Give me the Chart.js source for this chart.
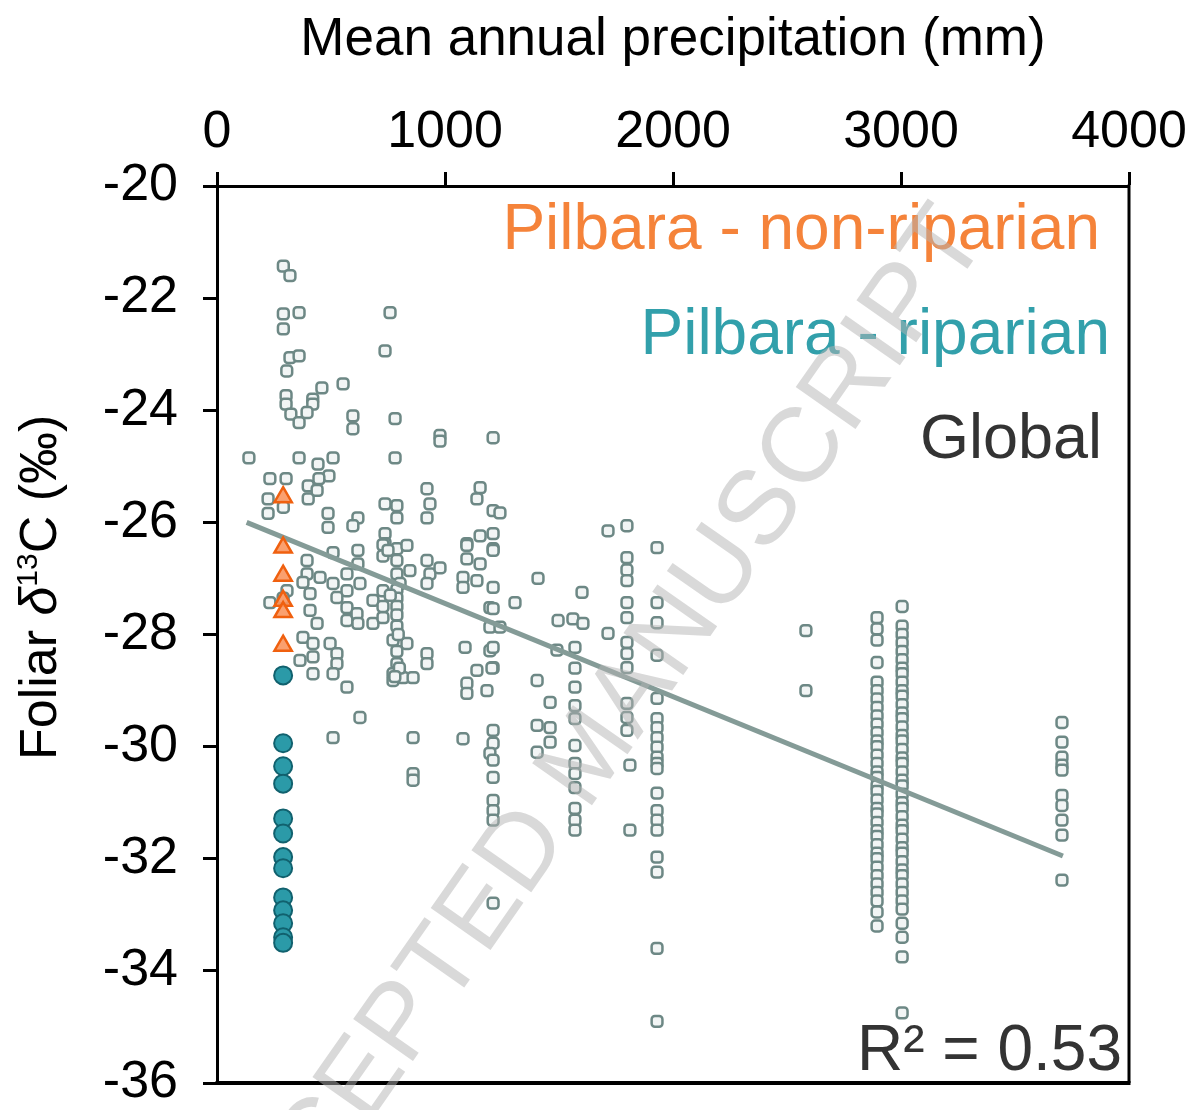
<!DOCTYPE html>
<html>
<head>
<meta charset="utf-8">
<script src="https://cdn.jsdelivr.net/npm/chart.js@4.4.1/dist/chart.umd.min.js"></script>
<style>
  html, body { margin: 0; padding: 0; background: #fff; }
</style>
</head>
<body>
<canvas id="chart" width="1194" height="1110"></canvas>
<script>
// ---- data ----
const xTicks = [0, 1000, 2000, 3000, 4000];
const yTicks = [-36, -34, -32, -30, -28, -26, -24, -22, -20];

const pilbaraMAP = 290;
const nonRiparianD13C = [-25.55, -26.45, -26.95, -27.4, -27.6, -28.2];
const riparianD13C = [-28.73, -29.94, -30.35, -30.66, -31.28, -31.55, -31.97, -32.17, -32.69, -32.92, -33.15, -33.4, -33.5];

const fitMAP = [130, 3710];
const fitD13C = [-26.0, -31.95];

// scattered global sites [MAP, d13C]
const globalPoints = [
  [291,-21.43],[320,-21.6],[291,-22.28],[360,-22.26],[291,-22.55],[320,-23.06],[360,-23.03],[306,-23.3],
  [460,-23.6],[553,-23.53],[303,-23.74],[303,-23.89],[420,-23.8],[420,-23.89],[324,-24.07],[360,-24.22],
  [395,-24.04],[596,-24.1],[596,-24.33],[781,-24.15],[978,-24.45],[978,-24.55],[1211,-24.49],[140,-24.85],
  [360,-24.85],[509,-24.85],[781,-24.85],[443,-24.96],[491,-25.17],[447,-25.22],[400,-25.35],[232,-25.22],
  [303,-25.22],[224,-25.58],[400,-25.58],[439,-25.43],[224,-25.84],[291,-25.73],[487,-25.84],[487,-26.09],
  [618,-25.92],[596,-26.06],[737,-25.67],[789,-25.7],[789,-25.92],[737,-26.2],[737,-26.38],[789,-26.47],
  [833,-26.41],[921,-25.4],[934,-25.67],[921,-25.92],[1154,-25.38],[1140,-25.58],[1211,-25.79],[1096,-26.38],
  [1154,-26.24],[1211,-26.2],[1211,-26.47],[1241,-25.83],[737,-22.94],[759,-22.26],
  [395,-26.68],[509,-26.54],[618,-26.5],[618,-26.74],[395,-26.92],[377,-27.07],[452,-26.98],[509,-27.09],
  [570,-26.92],[570,-27.22],[627,-27.09],[684,-27.39],[728,-27.22],[789,-26.68],[789,-26.92],[803,-27.09],
  [846,-26.86],[921,-26.68],[934,-26.92],[978,-26.81],[921,-27.09],[1096,-26.41],[1096,-26.65],[1154,-26.74],
  [1211,-26.5],[1079,-26.98],[1079,-27.16],[1140,-27.04],[1211,-27.16],[408,-27.27],[408,-27.57],[439,-27.8],
  [526,-27.34],[570,-27.52],[570,-27.75],[614,-27.63],[618,-27.8],[684,-27.8],[232,-27.43],[307,-27.22],
  [290,-27.35],[377,-28.05],[421,-28.16],[496,-28.16],[364,-28.46],[421,-28.4],[526,-28.34],[526,-28.52],
  [421,-28.7],[509,-28.7],[570,-28.94],[627,-29.48],[509,-29.84],[772,-28.1],[833,-28.16],[789,-28.52],
  [772,-28.7],[816,-28.77],[860,-28.77],[772,-28.82],[921,-28.34],[921,-28.52],[860,-29.84],[860,-30.48],
  [860,-30.6],[1088,-28.23],[1096,-28.87],[1096,-29.05],[1184,-29.0],[1140,-28.64],[1197,-28.29],[1211,-28.59],
  [1079,-29.86],[1211,-29.71],[1211,-29.94],[1197,-30.12],[1211,-30.24],[1211,-30.55],[1211,-30.96],[1211,-31.14],
  [1211,-31.31],[1211,-32.79],[1197,-27.52],[1197,-27.87],[1211,-27.54],[1241,-27.87],[1211,-28.23],[1206,-28.6],
  [789,-27.2],[789,-27.35],[789,-27.5],[789,-27.65],[789,-27.85],[795,-28.0],[789,-28.3],[800,-28.6],
  [780,-28.75],[728,-26.4],[728,-26.6],[728,-27.5],[728,-27.7],[750,-26.5],[760,-27.3],
  [1408,-27.0],[1307,-27.43],[1496,-27.75],[1561,-27.72],[1605,-27.8],[1491,-28.28],[1570,-28.23],[1570,-28.6],
  [1404,-28.82],[1461,-29.21],[1404,-29.62],[1461,-29.66],[1461,-29.92],[1404,-30.1],[1570,-28.94],[1570,-29.27],
  [1570,-29.5],[1570,-29.98],[1570,-30.3],[1570,-30.48],[1570,-30.73],[1570,-31.1],[1570,-31.31],[1570,-31.49],
  [1601,-27.25],[1715,-26.15],[1798,-26.06],[1798,-26.63],[1798,-26.85],[1798,-27.04],[1798,-27.43],[1798,-27.7],
  [1715,-27.98],[1798,-28.14],[1798,-28.34],[1798,-28.59],[1798,-29.23],[1798,-29.48],[1798,-29.71],[1811,-30.33],
  [1811,-31.49],[2583,-27.93],[2583,-29.0]
];

// sites stacked on a single MAP value
const col1930 = [-26.45,-27.43,-27.79,-28.37,-29.14,-29.5,-29.66,-29.84,-30.01,-30.19,-30.3,-30.39,-30.83,-31.14,-31.31,-31.49,-31.97,-32.24,-33.6,-34.9];
const col2895 = [-27.7,-27.9,-28.1,-28.5,-28.85,-29.0,-29.15,-29.3,-29.45,-29.6,-29.75,-29.9,-30.0,-30.15,-30.3,-30.45,-30.55,-30.7,-30.8,-30.95,-31.1,-31.2,-31.35,-31.5,-31.6,-31.75,-31.9,-32.0,-32.15,-32.3,-32.45,-32.6,-32.75,-32.95,-33.2];
const col3005 = [-27.5,-27.85,-28.0,-28.15,-28.3,-28.45,-28.6,-28.7,-28.85,-29.0,-29.1,-29.25,-29.4,-29.5,-29.65,-29.8,-29.9,-30.05,-30.2,-30.3,-30.45,-30.6,-30.7,-30.85,-31.0,-31.1,-31.25,-31.4,-31.5,-31.65,-31.8,-31.9,-32.05,-32.2,-32.3,-32.45,-32.6,-32.75,-32.9,-33.15,-33.4,-33.75,-34.75];
const col3706 = [-29.57,-29.92,-30.19,-30.33,-30.42,-30.87,-31.05,-31.31,-31.58,-32.38];

const FONT = "'Liberation Sans', Arial, sans-serif";

const globalData = globalPoints.map(p => ({ x: p[0], y: p[1] }))
  .concat(col1930.map(y => ({ x: 1930, y })))
  .concat(col2895.map(y => ({ x: 2895, y })))
  .concat(col3005.map(y => ({ x: 3005, y })))
  .concat(col3706.map(y => ({ x: 3706, y })));

// frame, labels and watermark
const extras = {
  id: 'extras',
  afterDatasetsDraw(chart) {
    const { ctx, chartArea: a } = chart;
    ctx.save();
    ctx.strokeStyle = '#000';
    ctx.lineWidth = 3;
    ctx.beginPath();
    ctx.moveTo(a.right, a.top - 1.5);
    ctx.lineTo(a.right, a.bottom);
    ctx.stroke();
    ctx.lineWidth = 4;
    ctx.beginPath();
    ctx.moveTo(a.left - 1.5, a.bottom);
    ctx.lineTo(a.right + 1.5, a.bottom);
    ctx.stroke();

    ctx.textAlign = 'right';
    ctx.textBaseline = 'alphabetic';
    ctx.font = '64px ' + FONT;
    ctx.fillStyle = '#f5833a';
    ctx.fillText('Pilbara - non-riparian', 1100, 249);
    ctx.fillStyle = '#32a0ab';
    ctx.fillText('Pilbara - riparian', 1110, 354);
    ctx.font = '63px ' + FONT;
    ctx.fillStyle = '#333';
    ctx.fillText('Global', 1102, 458);
    ctx.font = '64px ' + FONT;
    ctx.fillText('R\u00b2 = 0.53', 1122, 1070);

    // y-axis title with italic delta and superscript
    ctx.translate(56, 760);
    ctx.rotate(-Math.PI / 2);
    ctx.textAlign = 'left';
    ctx.fillStyle = '#000';
    let x = 0;
    ctx.font = '52px ' + FONT;
    ctx.fillText('Foliar ', x, 0); x += ctx.measureText('Foliar ').width;
    ctx.font = 'italic 52px ' + FONT;
    ctx.fillText('\u03b4', x, 0); x += ctx.measureText('\u03b4').width;
    ctx.font = '30px ' + FONT;
    ctx.fillText('13', x, -19); x += ctx.measureText('13').width;
    ctx.font = '52px ' + FONT;
    ctx.fillText('C (\u2030)', x, 0);
    ctx.restore();
  },
  afterDraw(chart) {
    const { ctx } = chart;
    ctx.save();
    ctx.translate(590, 757);
    ctx.rotate(-55 * Math.PI / 180);
    ctx.font = '106px ' + FONT;
    ctx.fillStyle = 'rgba(180,180,180,0.5)';
    ctx.textAlign = 'center';
    ctx.textBaseline = 'middle';
    ctx.fillText('ACCEPTED MANUSCRIPT', 0, 0);
    ctx.restore();
  }
};

const tickFont = { family: FONT, size: 52, lineHeight: 1 };
const axisGrid = { drawOnChartArea: false, drawTicks: true, tickLength: 14, tickWidth: 3, color: '#000' };
const axisBorder = { display: true, width: 3, color: '#000' };

new Chart(document.getElementById('chart'), {
  type: 'scatter',
  data: {
    datasets: [
      {
        label: 'Pilbara - non-riparian',
        data: nonRiparianD13C.map(y => ({ x: pilbaraMAP, y })),
        pointStyle: 'triangle', pointRadius: 10,
        backgroundColor: 'rgba(250,150,95,0.9)', borderColor: '#f0600f', borderWidth: 2.5
      },
      {
        label: 'Pilbara - riparian',
        data: riparianD13C.map(y => ({ x: pilbaraMAP, y })),
        pointStyle: 'circle', pointRadius: 9,
        backgroundColor: '#2b9aa8', borderColor: '#11616e', borderWidth: 2
      },
      {
        label: 'fit',
        data: fitMAP.map((x, i) => ({ x, y: fitD13C[i] })),
        showLine: true, pointRadius: 0, borderColor: '#849b97', borderWidth: 5
      },
      {
        label: 'Global',
        data: globalData,
        pointStyle: 'rectRounded', pointRadius: 6.3,
        backgroundColor: '#f2f5f5', borderColor: '#6d8885', borderWidth: 2.5
      }
    ]
  },
  options: {
    responsive: false,
    animation: false,
    layout: { padding: { left: 0, top: 0, right: 65, bottom: 27 } },
    plugins: { legend: { display: false }, tooltip: { enabled: false } },
    scales: {
      x: {
        type: 'linear', position: 'top',
        min: xTicks[0], max: xTicks[xTicks.length - 1],
        afterBuildTicks: s => { s.ticks = xTicks.map(v => ({ value: v })); },
        ticks: { callback: v => String(v), font: tickFont, color: '#000', padding: 13, maxRotation: 0, autoSkip: false },
        grid: axisGrid, border: axisBorder,
        title: { display: true, text: 'Mean annual precipitation (mm)', color: '#000', font: { family: FONT, size: 53 }, padding: { top: 9, bottom: 0 } },
        afterFit: s => { s.height = 186; s.paddingLeft = 0; s.paddingRight = 0; }
      },
      y: {
        type: 'linear',
        min: yTicks[0], max: yTicks[yTicks.length - 1],
        afterBuildTicks: s => { s.ticks = yTicks.map(v => ({ value: v })); },
        ticks: { callback: v => String(v), font: tickFont, color: '#000', padding: 25, autoSkip: false },
        grid: axisGrid, border: axisBorder,
        afterFit: s => { s.width = 217; s.paddingTop = 0; s.paddingBottom = 0; }
      }
    }
  },
  plugins: [extras]
});
</script>
</body>
</html>
